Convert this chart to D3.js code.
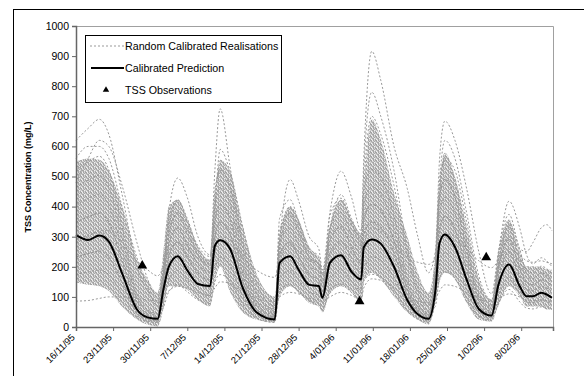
<!DOCTYPE html>
<html>
<head>
<meta charset="utf-8">
<script src="https://cdn.jsdelivr.net/npm/d3@7"></script>
<style>
  body { margin: 0; background: #fff; }
  svg { display: block; font-family: Arial, "Liberation Sans", sans-serif; }
</style>
</head>
<body>
<main></main>
<script>
// days since 16/11/95
const days = [0, 2.3, 4.4, 6.2, 8.7, 11.5, 13.5, 15.4, 16.5, 17.5, 19.2, 21, 23, 25.3, 26.2, 27.2, 29, 31.5, 34, 37.5,
  38.4, 40.4, 42, 44, 45.8, 46.5, 47.9, 50, 52, 53.8, 54.3, 55.8, 57.5, 60, 62.5, 64.5, 66.5, 67.8, 68.6, 69.6,
  71.5, 73.7, 76, 78.4, 79.7, 81.7, 83.7, 85, 86.2, 87.8, 88.8, 89.8];

const prediction = [305, 289, 304, 284, 178, 58, 32, 27, 125, 200, 235, 188, 143, 136, 270, 288, 262, 128, 50, 25,
  213, 235, 190, 140, 136, 97, 213, 238, 183, 158, 265, 291, 277, 200, 90, 42, 27, 120, 280, 307,
  266, 158, 60, 38, 140, 208, 136, 102, 102, 114, 108, 97];

// dense core of the realisation cloud
const bandHigh = [550, 560, 556, 520, 400, 224, 158, 114, 250, 400, 423, 357, 267, 224, 420, 556, 520, 333, 180, 101,
  300, 400, 357, 267, 224, 180, 330, 423, 357, 312, 450, 690, 623, 446, 302, 180, 114, 250, 480, 579,
  500, 335, 158, 91, 250, 357, 246, 202, 202, 200, 191, 190];
const bandLow = [148, 140, 135, 120, 68, 25, 8, 2, 60, 135, 135, 124, 91, 68, 150, 200, 120, 48, 25, 15,
  100, 135, 114, 80, 68, 48, 110, 135, 114, 80, 150, 180, 158, 101, 48, 25, 8, 80, 150, 180,
  158, 80, 25, 18, 70, 135, 102, 68, 68, 68, 58, 58];

const realisations = [
  [620,660,690,640,440,200,120,80, 200,330,420,360,260,220, 520,725,540,260,110,60, 300,400,350,250,230,180, 330,440,360,300, 520,780,700,520,260,130,70, 200,480,620,560,380,170,90, 200,300,260,250,280,330,340,320],
  [480,560,620,600,470,280,160,100, 180,380,495,430,300,240, 400,590,520,330,150,70, 280,490,420,300,260,190, 380,518,430,320, 560,916,820,600,460,300,180, 250,560,684,620,460,250,110, 250,418,330,240,210,230,220,200],
  [560,600,600,560,400,230,130,70, 160,300,380,330,240,200, 430,520,470,280,120,50, 260,380,330,230,210,150, 320,420,350,270, 460,700,640,470,240,110,50, 200,440,560,520,350,150,70, 200,340,260,180,160,180,170,150],
  [280,300,320,320,280,220,190,170, 200,250,280,260,230,210, 260,300,290,230,190,165, 220,270,250,220,210,190, 240,280,250,220, 270,330,320,280,230,215,208, 230,280,310,300,260,220,197, 220,260,240,220,215,220,215,210],
  [86,88,95,100,100,95,90,88, 100,120,135,130,115,105, 130,150,145,115,95,85, 100,115,110,95,90,85, 100,115,105,90, 130,160,155,130,100,85,80, 95,120,140,135,115,95,85, 95,110,100,90,88,90,88,85],
  [174,183,189,174,111,36,19,15, 154,273,329,273,210,182, 200,232,208,100,40,20, 240,282,234,174,156,116, 328,381,304,240, 255,291,277,205,90,42,27, 207,486,553,486,288,108,68, 108,166,112,84,80,90,86,78],
  [232,244,252,232,148,48,26,20, 110,195,235,195,150,130, 300,348,312,150,60,30, 320,376,312,232,208,155, 164,190,152,120, 357,407,388,287,126,59,38, 138,324,368,324,192,72,46, 216,333,224,168,160,179,173,155],
  [290,305,315,290,185,60,32,25, 176,312,376,312,240,208, 350,406,364,175,70,35, 160,188,156,116,104,78, 246,286,228,180, 459,524,499,369,162,76,49, 69,162,184,162,96,36,23, 162,250,168,126,120,134,130,116],
  [348,366,378,348,222,72,38,30, 88,156,188,156,120,104, 400,464,416,200,80,40, 280,329,273,203,182,136, 205,238,190,150, 306,349,332,246,108,50,32, 161,378,430,378,224,84,53, 135,208,140,105,100,112,108,97],
  [406,427,441,406,259,84,45,35, 132,234,282,234,180,156, 250,290,260,125,50,25, 360,423,351,261,234,175, 287,333,266,210, 408,466,443,328,144,67,43, 115,270,307,270,160,60,38, 189,291,196,147,140,157,151,136],
  [464,488,504,464,296,96,51,40, 198,351,423,351,270,234, 450,522,468,225,90,45, 200,235,195,145,130,97, 369,428,342,270, 204,233,222,164,72,34,22, 184,432,491,432,256,96,61, 243,374,252,189,180,202,194,175],
  [522,549,567,522,333,108,58,45, 66,117,141,117,90,78, 150,174,156,75,30,15, 120,141,117,87,78,58, 123,143,114,90, 153,175,166,123,54,25,16, 92,216,246,216,128,48,30, 81,125,84,63,60,67,65,58],
  [348,366,378,348,222,72,38,30, 154,273,329,273,210,182, 300,348,312,150,60,30, 240,282,234,174,156,116, 287,333,266,210, 357,407,388,287,126,59,38, 184,432,491,432,256,96,61, 162,250,168,126,120,134,130,116],
  [232,244,252,232,148,48,26,20, 132,234,282,234,180,156, 350,406,364,175,70,35, 200,235,195,145,130,97, 205,238,190,150, 306,349,332,246,108,50,32, 138,324,368,324,192,72,46, 189,291,196,147,140,157,151,136]
];

const obsDays = [12.5, 53.5, 77.4];
const obsValues = [204, 85, 231];

const xTickDates = ["1995-11-16", "1995-11-23", "1995-11-30", "1995-12-07", "1995-12-14", "1995-12-21", "1995-12-28",
  "1996-01-04", "1996-01-11", "1996-01-18", "1996-01-25", "1996-02-01", "1996-02-08"];
const yTicks = [0, 100, 200, 300, 400, 500, 600, 700, 800, 900, 1000];
const legendLabels = ["Random Calibrated Realisations", "Calibrated Prediction", "TSS Observations"];

const start = new Date(Date.UTC(1995, 10, 16));
const toDate = d => new Date(start.getTime() + d * 86400000);

const svg = d3.select("main").append("svg").attr("width", 584).attr("height", 376);

// speckled grey texture for the dense part of the cloud
const defs = svg.append("defs");
const pat = defs.append("pattern")
  .attr("id", "speckle").attr("width", 5).attr("height", 4).attr("patternUnits", "userSpaceOnUse");
pat.append("rect").attr("width", 5).attr("height", 4).attr("fill", "#cbcbcb");
[[0, 0, 2, 1], [3, 0, 1, 1], [1, 1, 1, 1], [4, 1, 1, 1], [2, 2, 2, 1], [0, 3, 1, 1], [3, 3, 1, 1]].forEach(([a, b, w, h]) =>
  pat.append("rect").attr("x", a).attr("y", b).attr("width", w).attr("height", h).attr("fill", "#9c9c9c"));
[[4, 2], [1, 3], [2, 0]].forEach(([a, b]) =>
  pat.append("rect").attr("x", a).attr("y", b).attr("width", 1).attr("height", 1).attr("fill", "#f0f0f0"));
defs.append("filter").attr("id", "soft").attr("x", "-5%").attr("y", "-5%").attr("width", "110%").attr("height", "110%")
  .append("feGaussianBlur").attr("stdDeviation", 0.6);

// outer frame (runs off the page)
svg.append("rect").attr("x", 13.5).attr("y", 9.5).attr("width", 620).attr("height", 420)
  .attr("fill", "none").attr("stroke", "#000");

const x = d3.scaleUtc().domain([start, toDate(90)]).range([76, 553]);
const y = d3.scaleLinear().domain([0, 1000]).range([327, 26]);

// plot frame top/right
svg.append("path").attr("d", `M76,26.5H553.5V327`).attr("fill", "none").attr("stroke", "#a0a0a0");

const area = d3.area()
  .x((d, i) => x(toDate(days[i])))
  .y0((d, i) => y(bandLow[i]))
  .y1(d => y(d))
  .curve(d3.curveMonotoneX);

svg.append("path")
  .datum(bandHigh)
  .attr("fill", "url(#speckle)")
  .attr("opacity", 0.9)
  .attr("filter", "url(#soft)")
  .attr("d", area);

const line = d3.line()
  .x((d, i) => x(toDate(days[i])))
  .y(d => y(d))
  .curve(d3.curveMonotoneX);

svg.append("g")
  .selectAll("path")
  .data(realisations)
  .join("path")
  .attr("fill", "none")
  .attr("stroke", "#999")
  .attr("stroke-width", 1)
  .attr("stroke-dasharray", "2,2")
  .attr("d", line);

svg.append("path")
  .datum(prediction)
  .attr("fill", "none")
  .attr("stroke", "#000")
  .attr("stroke-width", 2)
  .attr("stroke-linejoin", "round")
  .attr("d", line);

svg.append("g")
  .selectAll("path")
  .data(obsValues)
  .join("path")
  .attr("d", d3.symbol(d3.symbolTriangle, 42))
  .attr("transform", (d, i) => `translate(${x(toDate(obsDays[i]))},${y(d)})`)
  .attr("fill", "#000");

// axes
const yAxis = svg.append("g").attr("transform", "translate(76,0)")
  .call(d3.axisLeft(y).tickValues(yTicks).tickSize(4).tickPadding(3).tickFormat(d3.format("d")));
yAxis.selectAll("text").attr("font-size", 10.5).attr("fill", "#000").attr("font-family", null);
yAxis.select(".domain").attr("stroke", "#666").attr("stroke-width", 1.5);
yAxis.selectAll(".tick line").attr("stroke", "#666");

const xAxis = svg.append("g").attr("transform", "translate(0,327)")
  .call(d3.axisBottom(x).tickValues(xTickDates.map(s => new Date(s + "T00:00:00Z")))
    .tickSize(4).tickFormat(d3.utcFormat("%-d/%m/%y")));
xAxis.select(".domain").attr("stroke", "#666").attr("stroke-width", 1.5);
xAxis.selectAll(".tick line").attr("stroke", "#666");
xAxis.selectAll("text")
  .attr("font-size", 9.5).attr("font-family", null).attr("fill", "#000")
  .attr("text-anchor", "end")
  .attr("dy", null).attr("y", 0)
  .attr("transform", "translate(-1,11) rotate(-45)");

svg.append("text")
  .attr("transform", "translate(31,177) rotate(-90)")
  .attr("text-anchor", "middle")
  .attr("font-size", 9)
  .attr("font-weight", "bold")
  .text("TSS Concentration (mg/L)");

// legend
const lg = svg.append("g");
lg.append("rect").attr("x", 85.5).attr("y", 35.5).attr("width", 196).attr("height", 67)
  .attr("fill", "#fff").attr("stroke", "#000");
const rows = [46, 68, 90];
lg.append("line").attr("x1", 90).attr("x2", 124).attr("y1", rows[0]).attr("y2", rows[0])
  .attr("stroke", "#999").attr("stroke-dasharray", "2,2");
lg.append("line").attr("x1", 91).attr("x2", 124).attr("y1", rows[1]).attr("y2", rows[1])
  .attr("stroke", "#000").attr("stroke-width", 2);
lg.append("path").attr("d", d3.symbol(d3.symbolTriangle, 18))
  .attr("transform", `translate(106,${rows[2]})`);
lg.selectAll("text").data(legendLabels).join("text")
  .attr("x", 125).attr("y", (d, i) => rows[i]).attr("dy", "0.35em")
  .attr("font-size", 10.7).text(d => d);
</script>
</body>
</html>
